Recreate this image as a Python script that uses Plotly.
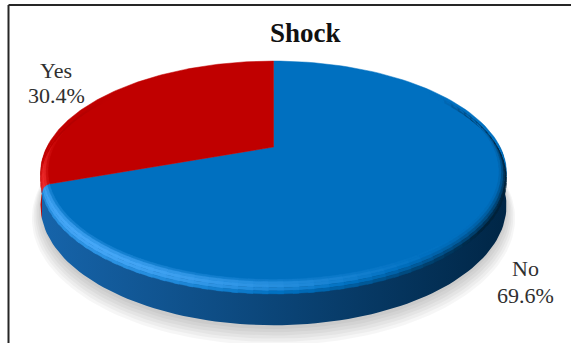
import numpy as np
import plotly.graph_objects as go

# ---- data -------------------------------------------------------------
categories = ["No", "Yes"]
shares = [69.6, 30.4]                      # percent of patients
face_colors = [(0, 112, 192), (192, 0, 0)]  # top face of each slice
glint_colors = [(80, 175, 255), (255, 60, 60)]
side_light = [(22, 100, 170), (178, 0, 0)]
side_dark = [(0, 38, 70), (100, 0, 0)]
title_text = "Shock"

# ---- 3-D pie geometry (perspective-tilted disc) -----------------------
W, H = 571, 343
CX, CY = 273.5, 147.0        # projected centre of the top face
A, B, K = 226.6, 105.9, 0.232
DELTA = 0.03                 # inward extent of the rounded rim
RIM = 7.0                    # vertical extent of the rounded rim
DEPTH = 31.0                 # thickness of the disc
LIGHT = np.array([-0.55, -0.55, 0.63])
LIGHT = LIGHT / np.linalg.norm(LIGHT)
SERIF = "Liberation Serif"


def proj(theta, r=1.0, drop=0.0):
    """theta: clockwise angle from 12 o'clock; returns screen x, y."""
    u = r * np.sin(theta)
    v = r * np.cos(theta)
    s = 1.0 / (1.0 + K * v)
    return CX + A * u * s, CY - B * v * s + drop * s


def css(c, a=None):
    c = [int(round(min(255, max(0, x)))) for x in c]
    if a is None:
        return f"rgb({c[0]},{c[1]},{c[2]})"
    return f"rgba({c[0]},{c[1]},{c[2]},{a})"


fig = go.Figure()


def poly(xs, ys, color, width=0.8, gradient=None):
    xs = list(xs) + [xs[0]]
    ys = list(ys) + [ys[0]]
    kw = dict(fillcolor=color)
    if gradient is not None:
        kw = dict(fillgradient=gradient)
    fig.add_trace(go.Scatter(
        x=xs, y=ys, mode="lines", fill="toself",
        line=dict(color=color, width=width), hoverinfo="skip",
        showlegend=False, **kw))


# slice boundaries, clockwise from 12 o'clock
bounds = np.concatenate([[0.0], np.cumsum(shares) / np.sum(shares) * 2 * np.pi])


def slice_of(theta):
    t = theta % (2 * np.pi)
    return int(np.clip(np.searchsorted(bounds, t, side="right") - 1, 0, len(shares) - 1))


def grid(t0, t1, step):
    g = list(np.arange(t0, t1, step)) + [t1]
    for b in bounds:
        for off in (0.0, 2 * np.pi):
            if t0 < b + off < t1:
                g.append(b + off)
    return np.array(sorted(set(np.round(g, 9))))


# soft shadow under the disc
full = np.linspace(0, 2 * np.pi, 181)
for i in range(6):
    xs, ys = proj(full, 1.0 + 0.007 * i, DEPTH + 3 + 1.4 * i)
    poly(xs, ys, "rgba(0,0,0,0.035)", width=0)

# side wall of every slice, shaded left (light) to right (dark)
xl, xr = 41.0, 506.0
vis0, vis1 = np.radians(88), np.radians(272)
for k in range(len(shares)):
    lo, hi = max(bounds[k], vis0), min(bounds[k + 1], vis1)
    if hi <= lo:
        continue
    tt = np.linspace(lo, hi, 100)
    xa, ya = proj(tt, 1.0, 0.0)
    xb, yb = proj(tt[::-1], 1.0, DEPTH)
    xs = np.concatenate([xa, xb])
    ys = np.concatenate([ya, yb])
    f0 = np.clip((xs.min() - xl) / (xr - xl), 0, 1)
    f1 = np.clip((xs.max() - xl) / (xr - xl), 0, 1)
    c0 = np.array(side_light[k]) * (1 - f0) + np.array(side_dark[k]) * f0
    c1 = np.array(side_light[k]) * (1 - f1) + np.array(side_dark[k]) * f1
    grad = dict(type="horizontal", colorscale=[[0, css(c0)], [1, css(c1)]])
    poly(xs, ys, css(0.5 * (c0 + c1)), width=0, gradient=grad)

# top faces of the slices
for k in range(len(shares)):
    tt = np.linspace(bounds[k], bounds[k + 1], 120)
    xs, ys = proj(tt)
    poly(np.concatenate([[CX], xs]), np.concatenate([[CY], ys]),
         css(face_colors[k]), width=0.5)

# rounded rim (bevel) lit from the front-left
NB = 5
g = grid(np.radians(52), np.radians(308), np.radians(3))
for t0, t1 in zip(g[:-1], g[1:]):
    tm = 0.5 * (t0 + t1)
    k = slice_of(tm)
    t1e = min(t1 + 0.4 * (t1 - t0), g[-1]) if slice_of(t1 + 1e-6) == k else t1
    w = np.clip((0.55 - np.cos(tm)) / 0.75, 0, 1)
    out = np.array([np.sin(tm), np.cos(tm), 0.0])
    for j in range(NB):
        p0 = j / NB * np.pi / 2
        p1 = (j + 1) / NB * np.pi / 2
        pm = 0.5 * (p0 + p1)
        n = np.cos(pm) * np.array([0, 0, 1.0]) + np.sin(pm) * out
        f = 1 + w * (float(n @ LIGHT) / LIGHT[2] - 1)
        base = np.array(face_colors[k], float)
        if f >= 1:
            c = base + (np.array(glint_colors[k]) - base) * min(1.0, (f - 1) * 1.5)
        else:
            c = base * (0.3 + 0.7 * max(f, 0.0))
        tt = np.linspace(t0, t1e, 3)
        r0, d0 = 1 - DELTA * (1 - np.sin(p0)), RIM * (1 - np.cos(p0))
        r1, d1 = 1 - DELTA * (1 - np.sin(p1)), RIM * (1 - np.cos(p1))
        xa, ya = proj(tt, r0, d0)
        xb, yb = proj(tt[::-1], r1, d1)
        poly(np.concatenate([xa, xb]), np.concatenate([ya, yb]), css(c), width=0.3)

# ---- text ---------------------------------------------------------------
label_font = dict(family=SERIF, size=22, color="#303030")
label_pos = {"No": (525, 268, 295), "Yes": (56, 70, 95)}
annotations = [dict(x=305, y=33, xref="x", yref="y", text=f"<b>{title_text}</b>",
                    showarrow=False,
                    font=dict(family=SERIF, size=27, color="#111111"))]
for name, val in zip(categories, shares):
    x, y1, y2 = label_pos[name]
    annotations.append(dict(x=x, y=y1, xref="x", yref="y", text=name,
                            showarrow=False, font=label_font))
    annotations.append(dict(x=x, y=y2, xref="x", yref="y", text=f"{val:.1f}%",
                            showarrow=False, font=label_font))

fig.update_layout(
    width=W, height=H,
    margin=dict(l=0, r=0, t=0, b=0),
    paper_bgcolor="white", plot_bgcolor="white",
    font=dict(family=SERIF),
    xaxis=dict(range=[0, W], visible=False, fixedrange=True),
    yaxis=dict(range=[H, 0], visible=False, fixedrange=True),
    annotations=annotations,
    shapes=[
        dict(type="line", xref="x", yref="y", x0=8.5, y0=5, x1=W, y1=5,
             line=dict(color="#262626", width=2)),
        dict(type="line", xref="x", yref="y", x0=8.5, y0=5, x1=8.5, y1=H,
             line=dict(color="#262626", width=2)),
    ],
    showlegend=False,
)

fig.write_html("out.html")
